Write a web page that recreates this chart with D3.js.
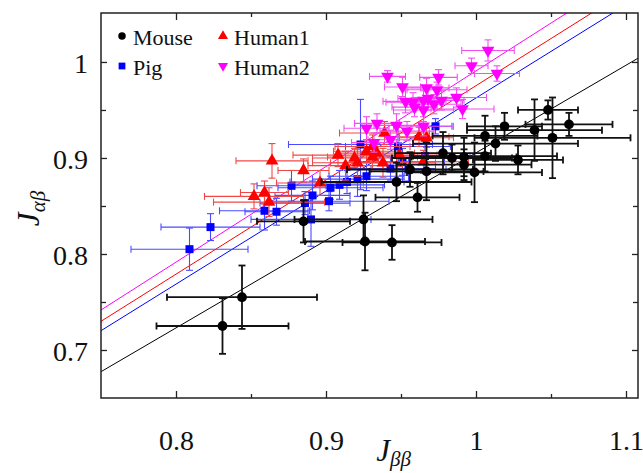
<!DOCTYPE html>
<html>
<head>
<meta charset="utf-8">
<script src="https://cdn.jsdelivr.net/npm/d3@7"></script>
<style>
  body { margin: 0; background: #fff; }
</style>
</head>
<body>
<svg id="chart"></svg>
<script>
// data: [x, y, xerr, yerr]
var mouse = [
  [0.831, 0.725, 0.044, 0.029], [0.844, 0.755, 0.050, 0.033], [0.885, 0.834, 0.031, 0.022],
  [0.925, 0.836, 0.046, 0.025], [0.926, 0.813, 0.040, 0.030], [0.944, 0.812, 0.033, 0.018],
  [0.947, 0.875, 0.050, 0.020], [0.961, 0.859, 0.028, 0.015], [0.956, 0.888, 0.042, 0.018],
  [0.967, 0.886, 0.038, 0.030], [0.978, 0.905, 0.032, 0.022], [0.984, 0.900, 0.040, 0.014],
  [0.992, 0.901, 0.035, 0.020], [0.992, 0.893, 0.045, 0.016], [0.999, 0.885, 0.045, 0.031],
  [1.006, 0.923, 0.035, 0.021], [1.013, 0.915, 0.055, 0.018], [1.006, 0.902, 0.048, 0.016],
  [1.019, 0.933, 0.025, 0.014], [1.028, 0.898, 0.030, 0.015], [1.039, 0.929, 0.045, 0.032],
  [1.048, 0.950, 0.020, 0.010], [1.051, 0.921, 0.052, 0.042], [1.062, 0.935, 0.029, 0.012]
];
var pig = [
  [0.809, 0.805, 0.039, 0.022], [0.823, 0.828, 0.033, 0.014], [0.859, 0.845, 0.030, 0.020],
  [0.867, 0.844, 0.021, 0.014], [0.877, 0.871, 0.023, 0.016], [0.886, 0.853, 0.030, 0.012],
  [0.891, 0.861, 0.025, 0.015], [0.902, 0.855, 0.040, 0.010], [0.890, 0.836, 0.040, 0.028],
  [0.903, 0.869, 0.035, 0.012], [0.909, 0.872, 0.030, 0.015], [0.914, 0.875, 0.038, 0.012],
  [0.921, 0.878, 0.030, 0.018], [0.923, 0.914, 0.048, 0.047], [0.927, 0.881, 0.025, 0.015],
  [0.943, 0.889, 0.030, 0.012], [0.948, 0.912, 0.035, 0.020], [0.951, 0.896, 0.028, 0.014],
  [0.966, 0.902, 0.030, 0.015], [0.973, 0.933, 0.011, 0.008], [0.955, 0.888, 0.025, 0.012]
];
var human1 = [
  [0.864, 0.897, 0.024, 0.018], [0.852, 0.860, 0.033, 0.013], [0.859, 0.864, 0.016, 0.012],
  [0.862, 0.854, 0.037, 0.015], [0.885, 0.887, 0.017, 0.012], [0.896, 0.874, 0.029, 0.013],
  [0.908, 0.903, 0.030, 0.012], [0.913, 0.892, 0.025, 0.015], [0.919, 0.900, 0.028, 0.010],
  [0.921, 0.895, 0.030, 0.014], [0.927, 0.907, 0.022, 0.012], [0.931, 0.901, 0.030, 0.013],
  [0.934, 0.905, 0.025, 0.010], [0.939, 0.926, 0.030, 0.012], [0.938, 0.895, 0.035, 0.015],
  [0.949, 0.903, 0.025, 0.012], [0.965, 0.896, 0.030, 0.012], [0.962, 0.922, 0.020, 0.010],
  [0.967, 0.921, 0.018, 0.010], [0.931, 0.912, 0.025, 0.012]
];
var human2 = [
  [1.008, 1.012, 0.0175, 0.011], [0.997, 0.996, 0.011, 0.008], [1.014, 0.988, 0.015, 0.008],
  [0.941, 0.985, 0.012, 0.006], [0.975, 0.984, 0.0125, 0.008], [0.951, 0.974, 0.012, 0.010],
  [0.967, 0.973, 0.015, 0.010], [0.974, 0.971, 0.020, 0.008], [0.953, 0.959, 0.015, 0.012],
  [0.958, 0.958, 0.018, 0.010], [0.965, 0.960, 0.015, 0.010], [0.968, 0.962, 0.020, 0.012],
  [0.972, 0.956, 0.018, 0.010], [0.977, 0.960, 0.015, 0.010], [0.987, 0.963, 0.020, 0.010],
  [0.991, 0.951, 0.021, 0.010], [0.965, 0.950, 0.020, 0.012], [0.959, 0.953, 0.015, 0.010],
  [0.947, 0.934, 0.015, 0.012], [0.954, 0.928, 0.018, 0.010], [0.927, 0.931, 0.015, 0.012],
  [0.934, 0.936, 0.015, 0.010], [0.965, 0.933, 0.020, 0.010], [0.932, 0.916, 0.015, 0.010],
  [0.943, 0.919, 0.015, 0.010]
];

// linear fits per series (Mouse, Pig, Human1, Human2)
var seriesNames = ["Mouse", "Pig", "Human1", "Human2"];
var fitSlope = [0.912, 0.9695, 0.9817, 0.996];
var fitIntercept = [-0.0066, -0.0070, -0.0064, -0.0053];

var xTicks = [0.8, 0.9, 1, 1.1];
var xMinor = [0.85, 0.95, 1.05];
var yTicks = [0.7, 0.8, 0.9, 1];
var yMinor = [0.75, 0.85, 0.95];

var colors = ["#000000", "#0000ff", "#ff0000", "#ff00ff"];
var barColors = ["#111111", "#4a4aff", "#f04848", "#f050f0"];
var shapes = [d3.symbolCircle, d3.symbolSquare, d3.symbolTriangle, d3.symbolTriangle];
var SERIF = "'Liberation Serif', 'Times New Roman', Times, 'DejaVu Serif', serif";

var W = 643, H = 473;
var margin = {top: 13, right: 5, bottom: 75, left: 101},
  width = W - margin.left - margin.right,
  height = H - margin.top - margin.bottom;

var svg = d3.select("#chart").attr("width", W).attr("height", H)
  .append("g")
  .attr("transform", "translate(" + margin.left + "," + margin.top + ")");

var x = d3.scaleLinear().domain([0.75, 1.108]).range([0, width]);
var y = d3.scaleLinear().domain([0.65, 1.051]).range([height, 0]);

var fmt = function(d) { return String(+d.toFixed(2)); };

// axes with inward ticks
function styleAxis(g) {
  g.select(".domain").remove();
  g.attr("font-family", SERIF);
  g.selectAll("line").attr("stroke", "#222").attr("stroke-width", 1.3);
  g.selectAll("text").style("font-family", SERIF).attr("fill", "#111");
}
svg.append("g").attr("transform", "translate(0," + height + ")")
  .call(d3.axisBottom(x).tickValues(xTicks).tickSize(-7).tickFormat(fmt))
  .call(styleAxis)
  .selectAll("text").attr("y", 52).attr("dy", 0).style("font-size", "28px");
svg.append("g").attr("transform", "translate(0," + height + ")")
  .call(d3.axisBottom(x).tickValues(xMinor).tickSize(-4).tickFormat(""))
  .call(styleAxis);
svg.append("g")
  .call(d3.axisTop(x).tickValues(xTicks).tickSize(-7).tickFormat(""))
  .call(styleAxis);
svg.append("g")
  .call(d3.axisTop(x).tickValues(xMinor).tickSize(-4).tickFormat(""))
  .call(styleAxis);
svg.append("g")
  .call(d3.axisLeft(y).tickValues(yTicks).tickSize(-6).tickFormat(fmt))
  .call(styleAxis)
  .selectAll("text").attr("x", -13).attr("dy", "0.36em").style("font-size", "28px");
svg.append("g")
  .call(d3.axisLeft(y).tickValues(yMinor).tickSize(-5).tickFormat(""))
  .call(styleAxis);
svg.append("g").attr("transform", "translate(" + width + ",0)")
  .call(d3.axisRight(y).tickValues(yTicks).tickSize(-6).tickFormat(""))
  .call(styleAxis);
svg.append("g").attr("transform", "translate(" + width + ",0)")
  .call(d3.axisRight(y).tickValues(yMinor).tickSize(-5).tickFormat(""))
  .call(styleAxis);

// clip
svg.append("clipPath").attr("id", "clip")
  .append("rect").attr("width", width).attr("height", height);
var plot = svg.append("g").attr("clip-path", "url(#clip)");

// fit lines
var xd = x.domain();
plot.selectAll(".fit")
  .data(seriesNames)
  .enter()
  .append("line")
  .attr("class", "fit")
  .attr("x1", x(xd[0]))
  .attr("x2", x(xd[1]))
  .attr("y1", function(d, i) { return y(fitIntercept[i] + fitSlope[i] * xd[0]); })
  .attr("y2", function(d, i) { return y(fitIntercept[i] + fitSlope[i] * xd[1]); })
  .attr("stroke", function(d, i) { return colors[i]; })
  .attr("stroke-width", 1);

// series
var allData = [mouse, pig, human1, human2];
var sizes = [75, 64, 70, 70];
var drawOrder = [1, 2, 3, 0];

drawOrder.forEach(function(si) {
  var data = allData[si];
  var g = plot.append("g");
  var cap = 3.5;
  var sw = si === 0 ? 1.8 : 1.1;
  var bars = g.selectAll(".eb").data(data).enter().append("g")
    .attr("stroke", barColors[si]).attr("stroke-width", sw);
  bars.append("line")
    .attr("x1", function(d) { return x(d[0] - d[2]); })
    .attr("x2", function(d) { return x(d[0] + d[2]); })
    .attr("y1", function(d) { return y(d[1]); })
    .attr("y2", function(d) { return y(d[1]); });
  bars.append("line")
    .attr("x1", function(d) { return x(d[0]); })
    .attr("x2", function(d) { return x(d[0]); })
    .attr("y1", function(d) { return y(d[1] - d[3]); })
    .attr("y2", function(d) { return y(d[1] + d[3]); });
  [-1, 1].forEach(function(s) {
    bars.append("line")
      .attr("x1", function(d) { return x(d[0] + s * d[2]); })
      .attr("x2", function(d) { return x(d[0] + s * d[2]); })
      .attr("y1", function(d) { return y(d[1]) - cap; })
      .attr("y2", function(d) { return y(d[1]) + cap; });
    bars.append("line")
      .attr("x1", function(d) { return x(d[0]) - cap; })
      .attr("x2", function(d) { return x(d[0]) + cap; })
      .attr("y1", function(d) { return y(d[1] + s * d[3]); })
      .attr("y2", function(d) { return y(d[1] + s * d[3]); });
  });
  g.selectAll(".pt").data(data).enter().append("path")
    .attr("d", d3.symbol().type(shapes[si]).size(sizes[si]))
    .attr("transform", function(d) {
      return "translate(" + x(d[0]) + "," + y(d[1]) + ")" + (si === 3 ? " rotate(180)" : "");
    })
    .attr("fill", colors[si]);
});

// frame
svg.append("rect").attr("width", width).attr("height", height)
  .attr("fill", "none").attr("stroke", "#222").attr("stroke-width", 1.5);

// legend
var legendPos = [[21, 23], [21, 53], [122, 23], [122, 53]];
var legend = svg.append("g");
seriesNames.forEach(function(name, i) {
  var lg = legend.append("g")
    .attr("transform", "translate(" + legendPos[i][0] + "," + legendPos[i][1] + ")");
  lg.append("path")
    .attr("d", d3.symbol().type(shapes[i]).size(i === 1 ? 46 : 44))
    .attr("transform", i === 3 ? "rotate(180)" : null)
    .attr("fill", colors[i]);
  lg.append("text").attr("x", 11).attr("y", 8.5)
    .style("font-family", SERIF).attr("fill", "#111")
    .style("font-size", "22px").text(name);
});

// axis titles
var xt = svg.append("text")
  .attr("x", width / 2 + 24).attr("y", height + 63)
  .attr("text-anchor", "middle").style("font-family", SERIF).attr("fill", "#111")
  .style("font-size", "31px");
xt.append("tspan").style("font-style", "italic").text("J");
xt.append("tspan").attr("dy", 5).style("font-size", "21px").style("font-style", "italic").text("ββ");

var yt = svg.append("text")
  .attr("transform", "translate(" + (-62) + "," + (height / 2 + 3) + ") rotate(-90)")
  .attr("text-anchor", "middle").style("font-family", SERIF).attr("fill", "#111")
  .style("font-size", "31px");
yt.append("tspan").style("font-style", "italic").text("J");
yt.append("tspan").attr("dy", 6).style("font-size", "21px").style("font-style", "italic").text("αβ");
</script>
</body>
</html>
